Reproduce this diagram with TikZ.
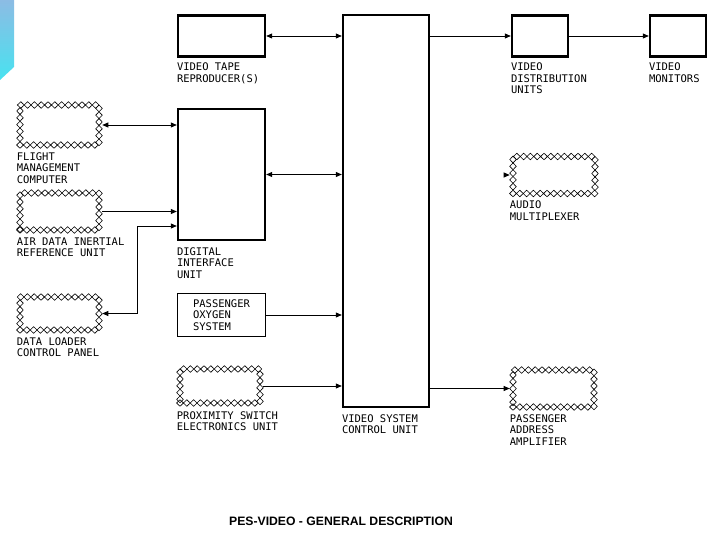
\documentclass[tikz,border=0pt]{standalone}
\usepackage{fontspec}
\newfontfamily\cadfont{DejaVu Sans Mono}
\newfontfamily\titlefont{Liberation Sans}
\usetikzlibrary{arrows.meta,positioning,decorations.markings}
\definecolor{tabtop}{RGB}{140,188,228}
\definecolor{tabbot}{RGB}{72,226,240}

\begin{document}
\begin{tikzpicture}[x=1pt,y=-1pt,
    blk/.style 2 args={draw, line width=2.4pt, inner sep=0, minimum width=#1, minimum height=#2},
    xbox/.style 2 args={inner sep=0, outer sep=3.3pt, minimum width=#1, minimum height=#2,
      postaction={decorate, decoration={markings,
        mark=between positions 0 and 1 step 6.8pt with {
          \draw[line width=0.6pt] (-3.4pt,0pt) -- (0pt,3.3pt) -- (3.4pt,0pt) -- (0pt,-3.3pt) -- cycle;}}}},
    lbl/.style={font=\cadfont\fontsize{10.5}{11.5}\selectfont, align=left, inner sep=0},
    arr/.style={-{Triangle[length=6pt,width=5pt]}, line width=0.8pt},
    dbl/.style={{Triangle[length=6pt,width=5pt]}-{Triangle[length=6pt,width=5pt]}, line width=0.8pt}]
    \useasboundingbox (0,0) rectangle (720,540);

    % Slide tab
    \shade[top color=tabtop, bottom color=tabbot] (0,0) -- (14,0) -- (14,67) -- (0,80) -- cycle;

    % Aircraft systems (left)
    \node[xbox={79}{40}] (fmc) at (59.5,125) {};
    \node[xbox={79}{37}] (adiru) at (59.5,211.5) {};
    \node[xbox={79}{33}] (dlcp) at (59.5,313.5) {};

    % Middle column
    \node[blk={87}{41}] (vtr) at (221.5,36) {};
    \node[blk={87}{131}] (diu) at (221.5,174.5) {};
    \node[lbl, draw, line width=1.1pt, minimum width=88pt, minimum height=43pt] (pos) at (221.5,315) {PASSENGER\\OXYGEN\\SYSTEM};
    \node[xbox={80}{34}] (pseu) at (220,386) {};

    % Control unit
    \node[blk={86}{392}] (vscu) at (386,211) {};

    % Outputs (right)
    \node[blk={56}{41}] (vdu) at (540,36) {};
    \node[blk={56}{41}] (vmon) at (678,36) {};
    \node[xbox={82}{37}] (amux) at (554,175) {};
    \node[xbox={81}{37}] (paa) at (553.5,388.5) {};

    % Labels
    \node[lbl, below right=5pt and 0pt of vtr.south west] (vtr-l) {VIDEO TAPE\\REPRODUCER(S)};
    \node[lbl, below right=6pt and 0pt of diu.south west] (diu-l) {DIGITAL\\INTERFACE\\UNIT};
    \node[lbl, below right=6pt and 0pt of vscu.south west] (vscu-l) {VIDEO SYSTEM\\CONTROL UNIT};
    \node[lbl, below right=5pt and 0pt of vdu.south west] (vdu-l) {VIDEO\\DISTRIBUTION\\UNITS};
    \node[lbl, below right=5pt and 0pt of vmon.south west] (vmon-l) {VIDEO\\MONITORS};
    \node[lbl, below right=4pt and 0pt of fmc.south west] (fmc-l) {FLIGHT\\MANAGEMENT\\COMPUTER};
    \node[lbl, below right=4pt and 0pt of adiru.south west] (adiru-l) {AIR DATA INERTIAL\\REFERENCE UNIT};
    \node[lbl, below right=4pt and 0pt of dlcp.south west] (dlcp-l) {DATA LOADER\\CONTROL PANEL};
    \node[lbl, below right=5pt and 0pt of pseu.south west] (pseu-l) {PROXIMITY SWITCH\\ELECTRONICS UNIT};
    \node[lbl, below right=4pt and 0pt of amux.south west] (amux-l) {AUDIO\\MULTIPLEXER};
    \node[lbl, below right=4pt and 0pt of paa.south west] (paa-l) {PASSENGER\\ADDRESS\\AMPLIFIER};

    % Connections
    \draw[dbl] (vtr.east) -- (vtr.east -| vscu.west);
    \draw[dbl] (fmc.east) -- (fmc.east -| diu.west);
    \draw[arr] (adiru.east) -- (adiru.east -| diu.west);
    \coordinate (dlbend) at (137,226);
    \draw[dbl] (dlcp.east) -| (dlbend) -- (dlbend -| diu.west);
    \draw[dbl] (diu.east) -- (diu.east -| vscu.west);
    \draw[arr] (pos.east) -- (pos.east -| vscu.west);
    \draw[arr] (pseu.east) -- (pseu.east -| vscu.west);
    \draw[arr] (vscu.east |- vdu.west) -- (vdu.west);
    \draw[arr] (vdu.east) -- (vmon.west);
    \draw[arr] (vscu.east |- paa.west) -- (paa.west);
    \coordinate (amuxin) at (504,175);
    \draw[arr] (amuxin) -- (amux.west);

    % Caption
    \node[font=\titlefont\bfseries\fontsize{12.2}{14}\selectfont] (title) at (341,521) {PES-VIDEO - GENERAL DESCRIPTION};
\end{tikzpicture}
\end{document}
